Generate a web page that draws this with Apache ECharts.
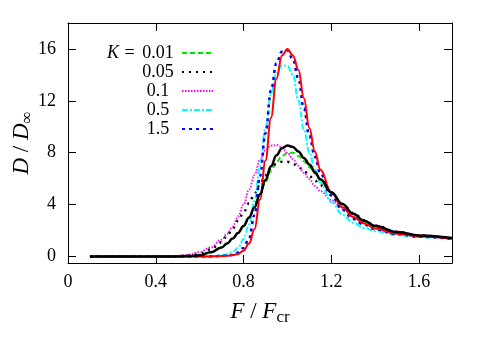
<!DOCTYPE html>
<html>
<head>
<meta charset="utf-8">
<script src="https://cdn.jsdelivr.net/npm/echarts@6/dist/echarts.min.js"></script>
<style>
  html, body { margin: 0; padding: 0; background: #fff; }
  #chart { width: 485px; height: 339px; }
</style>
</head>
<body>
<div id="chart"></div>
<script>
/* ---------- data ---------- */
const xs = [0.1, 0.2, 0.3, 0.4, 0.45, 0.5, 0.55, 0.6, 0.65, 0.7, 0.725, 0.75, 0.775, 0.8, 0.825, 0.85, 0.875, 0.9,
  0.925, 0.95, 0.975, 1.0, 1.025, 1.05, 1.075, 1.1, 1.125, 1.15, 1.2, 1.25, 1.3, 1.35, 1.4, 1.5, 1.6, 1.75];

// K = 0.01 (green dashed)
const k001 = [0, 0, 0, 0, 0, 0.01, 0.03, 0.1, 0.32, 0.7, 1.0, 1.38, 1.82, 2.35, 3.0, 3.8, 4.8, 5.75,
  6.6, 7.3, 7.75, 7.98, 8.0, 7.75, 7.35, 6.9, 6.4, 5.9, 4.92, 4.0, 3.25, 2.7, 2.3, 1.85, 1.6, 1.4];
// K = 0.05 (black dotted)
const k005 = [0, 0, 0, 0, 0.01, 0.03, 0.08, 0.22, 0.55, 1.1, 1.6, 2.15, 2.75, 3.4, 4.1, 4.85, 5.6, 6.25,
  6.8, 7.15, 7.3, 7.3, 7.15, 6.9, 6.6, 6.2, 5.85, 5.5, 4.85, 4.05, 3.35, 2.8, 2.38, 1.9, 1.62, 1.4];
// K = 0.1 (magenta fine dots)
const k01 = [0, 0, 0, 0, 0.02, 0.05, 0.15, 0.35, 0.7, 1.3, 1.75, 2.3, 3.1, 4.0, 5.15, 6.3, 7.45, 8.2,
  8.55, 8.6, 8.4, 8.0, 7.5, 7.0, 6.45, 5.95, 5.45, 5.05, 4.35, 3.75, 3.2, 2.75, 2.38, 1.92, 1.64, 1.42];
// K = 0.5 (cyan dash-dot)
const k05 = [0, 0, 0, 0, 0, 0, 0, 0.01, 0.03, 0.1, 0.18, 0.35, 0.65, 1.35, 2.45, 4.3, 7.0, 9.9,
  12.5, 14.1, 14.75, 14.7, 14.0, 12.0, 9.8, 8.0, 6.7, 5.7, 4.2, 3.25, 2.6, 2.2, 1.95, 1.65, 1.5, 1.35];
// K = 1.5 (blue dots)
const k15 = [0, 0, 0, 0, 0, 0, 0, 0, 0.01, 0.04, 0.07, 0.12, 0.3, 0.65, 1.4, 3.2, 6.2, 9.5,
  12.8, 14.9, 15.8, 15.9, 15.2, 13.7, 11.4, 9.3, 7.7, 6.4, 4.7, 3.6, 2.9, 2.45, 2.1, 1.72, 1.52, 1.36];
// red solid
const redCurve = [0, 0, 0, 0, 0, 0, 0, 0, 0.01, 0.03, 0.06, 0.11, 0.2, 0.45, 1.0, 2.1, 4.4, 7.4,
  10.7, 13.7, 15.5, 16.0, 15.5, 14.4, 12.2, 9.9, 8.1, 6.7, 4.95, 3.8, 3.05, 2.55, 2.15, 1.75, 1.55, 1.38];
// black solid
const blackCurve = [0, 0, 0, 0, 0, 0.01, 0.03, 0.1, 0.32, 0.7, 1.0, 1.38, 1.82, 2.35, 3.0, 3.8, 4.8, 5.9,
  6.95, 7.8, 8.35, 8.55, 8.45, 8.1, 7.6, 7.1, 6.5, 5.95, 4.95, 4.05, 3.3, 2.75, 2.35, 1.88, 1.62, 1.42];

const xTicks = [0, 0.4, 0.8, 1.2, 1.6];
const yTicks = [0, 4, 8, 12, 16];
const legendNames = ["0.01", "0.05", "0.1", "0.5", "1.5"];

/* ---------- chart ---------- */
const FONT = "'Liberation Serif', 'DejaVu Serif', serif";
const chart = echarts.init(document.getElementById("chart"));

const pairs = (ys) => xs.map((x, i) => [x, ys[i]]);

function lineSeries(name, ys, color, type, width) {
  return {
    name: name,
    type: "line",
    data: pairs(ys),
    symbol: "none",
    smooth: 0.4,
    smoothMonotone: "x",
    lineStyle: { color: color, type: type, width: width },
    itemStyle: { color: color },
  };
}

const axisLineStyle = { show: true, onZero: false, lineStyle: { color: "#000", width: 1 } };
const titleRich = {
  i: { fontFamily: FONT, fontSize: 23, fontStyle: "italic" },
  s: { fontFamily: FONT, fontSize: 17, padding: [11, 0, 0, 0] },
};

const option = {
  animation: false,
  backgroundColor: "#fff",
  grid: { left: 68, right: 33, top: 23, bottom: 76, outerBoundsMode: "none" },
  legend: {
    data: legendNames,
    orient: "vertical",
    left: 101,
    top: 39,
    align: "right",
    itemWidth: 31,
    itemHeight: 12,
    itemGap: 1,
    itemStyle: { opacity: 0 },
    formatter: (name) =>
      name === "0.01" ? "{ki|K}{eq|=}{v|" + name + "}" : "{pad| }{v|" + name + "}",
    textStyle: {
      fontFamily: FONT,
      fontSize: 18,
      color: "#000",
      lineHeight: 18,
      rich: {
        ki: { fontFamily: FONT, fontSize: 18, fontStyle: "italic", width: 14, lineHeight: 18 },
        eq: { fontFamily: FONT, fontSize: 18, width: 19, align: "center", lineHeight: 18 },
        pad: { fontFamily: FONT, fontSize: 18, width: 33, lineHeight: 18 },
        v: { fontFamily: FONT, fontSize: 18, width: 38, align: "left", lineHeight: 18 },
      },
    },
  },
  xAxis: [
    {
      type: "value",
      min: 0,
      max: 1.75,
      position: "bottom",
      axisLine: axisLineStyle,
      axisTick: { show: true, inside: true, length: 8, customValues: xTicks, lineStyle: { color: "#000" } },
      axisLabel: { customValues: xTicks, fontFamily: FONT, fontSize: 18, color: "#000", margin: 10 },
      splitLine: { show: false },
      name: "{i|F} / {i|F}{s|cr}",
      nameLocation: "middle",
      nameGap: 35,
      nameMoveOverlap: false,
      nameTextStyle: { fontFamily: FONT, fontSize: 23, color: "#000", rich: titleRich },
    },
    {
      type: "value",
      min: 0,
      max: 1.75,
      position: "top",
      axisLine: axisLineStyle,
      axisTick: { show: true, inside: true, length: 8, customValues: xTicks, lineStyle: { color: "#000" } },
      axisLabel: { show: false },
      splitLine: { show: false },
    },
  ],
  yAxis: [
    {
      type: "value",
      min: -0.5,
      max: 18,
      position: "left",
      axisLine: axisLineStyle,
      axisTick: { show: true, inside: true, length: 8, customValues: yTicks, lineStyle: { color: "#000" } },
      axisLabel: { customValues: yTicks, fontFamily: FONT, fontSize: 18, color: "#000", margin: 12 },
      splitLine: { show: false },
      name: "{i|D} / {i|D}{s|∞}",
      nameLocation: "middle",
      nameGap: 32,
      nameMoveOverlap: false,
      nameTextStyle: { fontFamily: FONT, fontSize: 23, color: "#000", rich: titleRich },
    },
    {
      type: "value",
      min: -0.5,
      max: 18,
      position: "right",
      axisLine: axisLineStyle,
      axisTick: { show: true, inside: true, length: 8, customValues: yTicks, lineStyle: { color: "#000" } },
      axisLabel: { show: false },
      splitLine: { show: false },
    },
  ],
  series: [
    lineSeries("0.01", k001, "#00e600", [5, 3], 2),
    lineSeries("0.05", k005, "#000000", [2, 5], 2.5),
    lineSeries("0.1", k01, "#ff00ff", [1.5, 1.5], 1.8),
    lineSeries("0.5", k05, "#00ffff", [6, 2, 2, 2], 2),
    lineSeries("1.5", k15, "#0000ff", [3, 4], 2.5),
    lineSeries("red", redCurve, "#ff0000", "solid", 2),
    lineSeries("black", blackCurve, "#000000", "solid", 2.5),
  ],
};

chart.setOption(option);
</script>
</body>
</html>
